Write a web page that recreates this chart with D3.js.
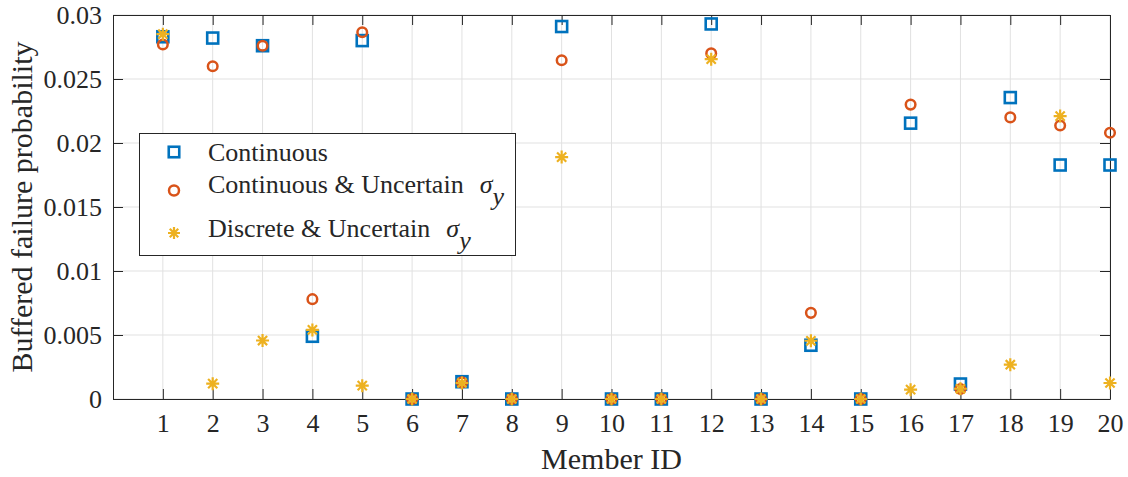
<!DOCTYPE html>
<html><head><meta charset="utf-8">
<script src="https://cdn.jsdelivr.net/npm/d3@7"></script>
<style>
body{margin:0;background:#fff;}
</style></head>
<body><svg id="chart" width="1128" height="477"></svg>
<script>
const memberIds = d3.range(1, 21);
const continuous = [0.0283,0.0282,0.0276,0.0049,0.0280,0,0.00135,0,0.0291,0,0,0.0293,0,0.0042,0,0.02155,0.00117,0.02355,0.01828,0.01828];
const contUncertain = [0.0277,0.0260,0.0276,0.0078,0.02865,0,0.0013,0,0.02647,0,0,0.0270,0,0.00673,0,0.0230,0.00078,0.0220,0.02137,0.0208];
const discUncertain = [0.0285,0.0012,0.00457,0.0054,0.00104,0,0.00125,0,0.0189,0,0,0.02655,0,0.00455,0,0.00073,0.0008,0.00268,0.0221,0.00125];
const yTicks = [0,0.005,0.01,0.015,0.02,0.025,0.03];
const yTickLabels = ["0","0.005","0.01","0.015","0.02","0.025","0.03"];

const FONT = "Liberation Serif";
const svg = d3.select("#chart");
const L = 113, R = 1110, T = 15, B = 399;
const x = d3.scaleLinear().domain([0, 20]).range([L, R]);
const y = d3.scaleLinear().domain([0, 0.03]).range([B, T]);
const axisColor = "#262626";

// grid
const grid = svg.append("g").attr("stroke", "#e1e1e1").attr("stroke-width", 1);
memberIds.forEach(d => grid.append("line").attr("x1", x(d)).attr("x2", x(d)).attr("y1", T).attr("y2", B));
yTicks.forEach(d => grid.append("line").attr("x1", L).attr("x2", R).attr("y1", y(d)).attr("y2", y(d)));

// axes (box with inward ticks on all four sides)
const tickLen = 10;
const fmt = (d) => yTickLabels[yTicks.indexOf(d)];
const styleAxis = g => {
  g.attr("font-family", FONT).attr("font-size", 26);
  g.select(".domain").attr("stroke", axisColor);
  g.selectAll("line").attr("stroke", axisColor);
  g.selectAll("text").style("font-family", FONT).style("font-size", "26px").attr("fill", axisColor);
};
svg.append("g").attr("transform", `translate(0,${B})`)
  .call(d3.axisBottom(x).tickValues(memberIds).tickSizeInner(-tickLen).tickSizeOuter(0).tickPadding(15).tickFormat(d3.format("d")))
  .call(styleAxis);
svg.append("g").attr("transform", `translate(0,${T})`)
  .call(d3.axisTop(x).tickValues(memberIds).tickSizeInner(-tickLen).tickSizeOuter(0).tickFormat(""))
  .call(styleAxis);
svg.append("g").attr("transform", `translate(${L},0)`)
  .call(d3.axisLeft(y).tickValues(yTicks).tickSizeInner(-tickLen).tickSizeOuter(0).tickPadding(11).tickFormat(fmt))
  .call(styleAxis);
svg.append("g").attr("transform", `translate(${R},0)`)
  .call(d3.axisRight(y).tickValues(yTicks).tickSizeInner(-tickLen).tickSizeOuter(0).tickFormat(""))
  .call(styleAxis);

// axis titles
svg.append("text").attr("x", (L + R) / 2).attr("y", 469).attr("text-anchor", "middle")
  .style("font-family", FONT).style("font-size", "30px").attr("fill", axisColor).text("Member ID");
svg.append("text").attr("transform", `translate(32,${(T + B) / 2}) rotate(-90)`).attr("text-anchor", "middle")
  .style("font-family", FONT).style("font-size", "30px").attr("fill", axisColor).text("Buffered failure probability");

// markers
const blue = "#0072BD", orange = "#D95319", yellow = "#EDB120";
const starPath = (s) => {
  let p = "";
  for (let i = 0; i < 4; i++) {
    const a = i * Math.PI / 4;
    const dx = s * Math.cos(a), dy = s * Math.sin(a);
    p += `M${-dx},${-dy}L${dx},${dy}`;
  }
  return p;
};
function drawSquares(g, data, cx, cy, size) {
  g.selectAll("rect.sq").data(data).join("rect").attr("class", "sq")
    .attr("x", (d, i) => cx(d, i) - size / 2).attr("y", (d, i) => cy(d, i) - size / 2)
    .attr("width", size).attr("height", size)
    .attr("fill", "none").attr("stroke", blue).attr("stroke-width", 2.6);
}
function drawCircles(g, data, cx, cy, r) {
  g.selectAll("circle.ci").data(data).join("circle").attr("class", "ci")
    .attr("cx", (d, i) => cx(d, i)).attr("cy", (d, i) => cy(d, i)).attr("r", r)
    .attr("fill", "none").attr("stroke", orange).attr("stroke-width", 2.5);
}
function drawStars(g, data, cx, cy, s) {
  g.selectAll("path.st").data(data).join("path").attr("class", "st")
    .attr("transform", (d, i) => `translate(${cx(d, i)},${cy(d, i)})`)
    .attr("d", starPath(s)).attr("fill", "none").attr("stroke", yellow).attr("stroke-width", 2.2);
}
const px = (d, i) => x(memberIds[i]);
const py = (d) => y(d);
drawSquares(svg.append("g"), continuous, px, py, 11);
drawCircles(svg.append("g"), contUncertain, px, py, 4.8);
drawStars(svg.append("g"), discUncertain, px, py, 6.5);

// legend
const lg = svg.append("g");
lg.append("rect").attr("x", 139.5).attr("y", 133.5).attr("width", 376).attr("height", 122)
  .attr("fill", "#fff").attr("stroke", "#262626").attr("stroke-width", 1);
const rows = [
  {label: "Continuous", sigma: false, my: 152, base: 160.5},
  {label: "Continuous & Uncertain", sigma: true, my: 190.5, base: 192.5},
  {label: "Discrete & Uncertain", sigma: true, my: 233, base: 236.5}
];
drawSquares(lg.append("g"), [0], () => 174, () => rows[0].my, 10.5);
drawCircles(lg.append("g"), [0], () => 174, () => rows[1].my, 5);
drawStars(lg.append("g"), [0], () => 174, () => rows[2].my, 6);
rows.forEach(r => {
  const t = lg.append("text").attr("x", 208).attr("y", r.base)
    .style("font-family", FONT).style("font-size", "26px").attr("fill", axisColor).text(r.label);
  if (r.sigma) {
    const end = 208 + t.node().getComputedTextLength();
    const s = lg.append("text").attr("x", end + 16).attr("y", r.base)
      .style("font-family", FONT).style("font-size", "26px").attr("font-style", "italic").attr("fill", axisColor);
    s.append("tspan").text("σ");
    s.append("tspan").attr("dx", 0).attr("dy", 12).text("y");
  }
});
</script>
</body></html>
